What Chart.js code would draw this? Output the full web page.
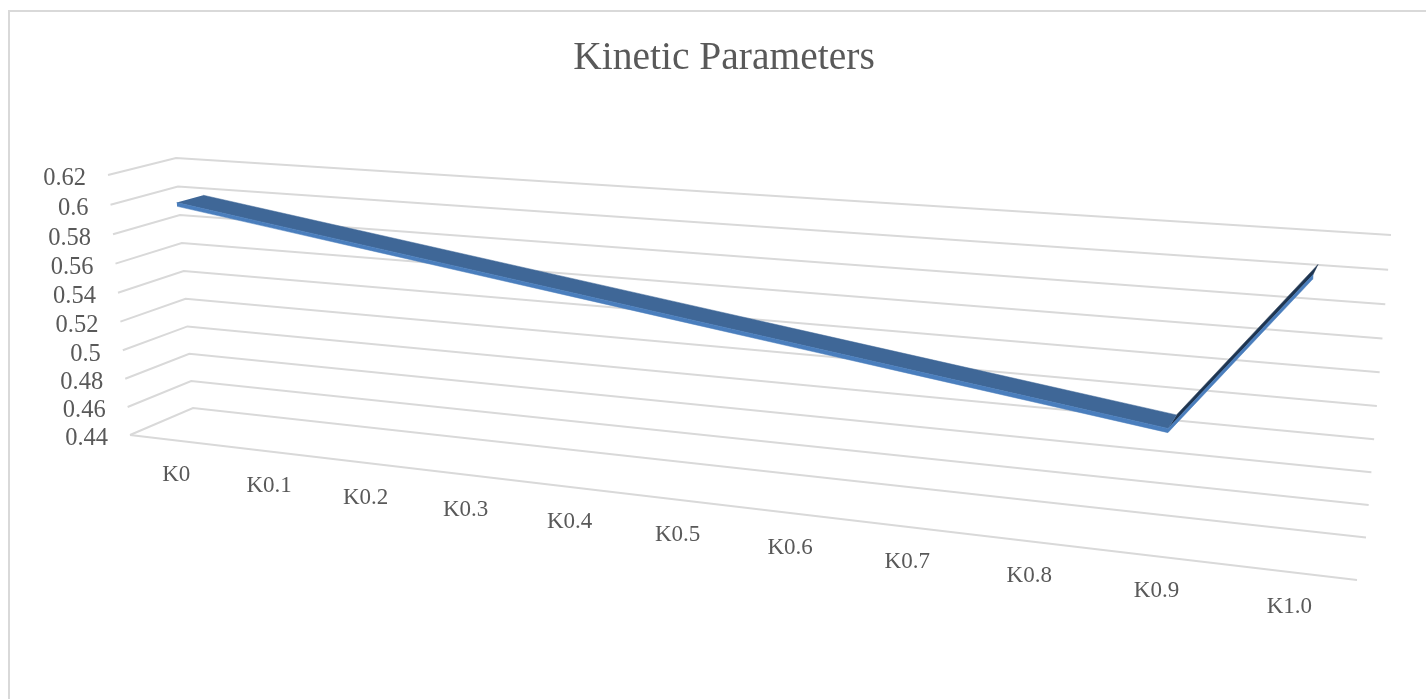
<!DOCTYPE html>
<html>
<head>
<meta charset="utf-8">
<title>Kinetic Parameters</title>
<script src="https://cdn.jsdelivr.net/npm/chart.js@4"></script>
<style>
  html, body { margin: 0; padding: 0; background: #fff; overflow: hidden; }
  #marco { position: absolute; left: 8px; top: 10px; width: 1430px; height: 720px; border: 2px solid #d9d9d9; box-sizing: border-box; }
  #caja { position: absolute; left: 22px; top: 0; width: 1404px; height: 699px; }
</style>
</head>
<body>
<div id="marco"></div>
<div id="caja"><canvas id="grafico" width="1404" height="699"></canvas></div>
<script>
const categories = ['K0', 'K0.1', 'K0.2', 'K0.3', 'K0.4', 'K0.5', 'K0.6', 'K0.7', 'K0.8', 'K0.9', 'K1.0'];
const values = [0.6, 0.59, 0.58, 0.57, 0.56, 0.55, 0.54, 0.53, 0.52, 0.51, 0.605];
const valueTicks = [0.44, 0.46, 0.48, 0.5, 0.52, 0.54, 0.56, 0.58, 0.6, 0.62];

// the 3D box as it lands on screen: bottom-left, bottom-right, top-right, top-left
const frontQuad = [[130, 435], [1357, 580], [1383, 260], [108, 175]];
const backQuad = [[193, 408], [1366, 537.5], [1391, 235], [176, 158]];
const ribbonFront = 0.3, ribbonBack = 0.7, ribbonThickness = 0.0025;

const crearPlano = (q) => {
    const [[x0, y0], [x1, y1], [x2, y2], [x3, y3]] = q;
    const dx1 = x1 - x2, dx2 = x3 - x2, sx = x0 - x1 + x2 - x3;
    const dy1 = y1 - y2, dy2 = y3 - y2, sy = y0 - y1 + y2 - y3;
    const den = dx1 * dy2 - dx2 * dy1;
    const g = (sx * dy2 - dx2 * sy) / den, h = (dx1 * sy - sx * dy1) / den;
    const a = x1 - x0 + g * x1, b = x3 - x0 + h * x3;
    const d = y1 - y0 + g * y1, e = y3 - y0 + h * y3;
    return (u, t) => {
        const w = g * u + h * t + 1;
        return { x: (a * u + b * t + x0) / w, y: (d * u + e * t + y0) / w };
    };
};
const planoFrente = crearPlano(frontQuad);
const planoFondo = crearPlano(backQuad);

const vMin = valueTicks[0], vMax = valueTicks[valueTicks.length - 1];

// i = category position, v = value, depth 0 front .. 1 back
const proyectar = (i, v, depth) => {
    const u = (i + 0.5) / categories.length, t = (v - vMin) / (vMax - vMin);
    const f = planoFrente(u, t), b = planoFondo(u, t);
    return { x: f.x + (b.x - f.x) * depth, y: f.y + (b.y - f.y) * depth };
};
const esquina = (plano, u, v) => plano(u, (v - vMin) / (vMax - vMin));

const lineaGrid = (v) => ({
    data: [esquina(planoFrente, 0, v), esquina(planoFondo, 0, v), esquina(planoFondo, 1, v)],
    borderColor: '#d9d9d9', borderWidth: 2, fill: false
});
const lineaPiso = {
    data: [esquina(planoFrente, 0, vMin), esquina(planoFrente, 1, vMin)],
    borderColor: '#d9d9d9', borderWidth: 2, fill: false
};

const cara = (desde, hasta, color) => {
    const frente = [], fondo = [];
    for (let i = desde; i <= hasta; i++) {
        frente.push(proyectar(i, values[i], ribbonFront));
        fondo.unshift(proyectar(i, values[i], ribbonBack));
    }
    return { data: frente.concat(fondo), backgroundColor: color, borderColor: color, borderWidth: 0.5, fill: 'shape' };
};
const bandaFrontal = () => {
    const arriba = [], abajo = [];
    values.forEach((v, i) => {
        arriba.push(proyectar(i, v, ribbonFront));
        abajo.unshift(proyectar(i, v - ribbonThickness, ribbonFront));
    });
    return { data: arriba.concat(abajo), backgroundColor: '#4a7ebd', borderColor: '#4a7ebd', borderWidth: 0.5, fill: 'shape' };
};

const etiquetas = {
    id: 'etiquetas',
    afterDraw(chart) {
        const { ctx, scales: { x, y } } = chart;
        ctx.save();
        ctx.fillStyle = '#595959';
        ctx.textBaseline = 'middle';
        ctx.font = '24.5px "Liberation Serif"';
        ctx.textAlign = 'right';
        valueTicks.forEach((v) => {
            const p = esquina(planoFrente, 0, v);
            ctx.fillText(String(v), x.getPixelForValue(p.x - 22), y.getPixelForValue(p.y + 4));
        });
        ctx.font = '23px "Liberation Serif"';
        ctx.textAlign = 'center';
        categories.forEach((c, i) => {
            const p = proyectar(i, vMin, 0);
            ctx.fillText(c, x.getPixelForValue(p.x + 1), y.getPixelForValue(p.y + 35));
        });
        ctx.restore();
    }
};

// Chart.js paints the first dataset last, so the ribbon goes first
new Chart(document.getElementById('grafico').getContext('2d'), {
    type: 'scatter',
    data: {
        datasets: [bandaFrontal(), cara(0, 9, '#3f6797'), cara(9, 10, '#1e3551'), lineaPiso].concat(valueTicks.map(lineaGrid))
    },
    options: {
        responsive: false,
        animation: false,
        showLine: true,
        layout: { padding: 0 },
        elements: { point: { radius: 0 }, line: { tension: 0 } },
        plugins: {
            legend: { display: false },
            tooltip: { enabled: false },
            title: {
                display: true,
                text: 'Kinetic Parameters',
                color: '#595959',
                font: { family: '"Liberation Serif"', size: 39.5, weight: 'normal', lineHeight: 1 },
                padding: { top: 39, bottom: 0 }
            }
        },
        scales: {
            x: { type: 'linear', display: false, min: 22, max: 1426 },
            y: { type: 'linear', display: false, min: 78.5, max: 699, reverse: true }
        }
    },
    plugins: [etiquetas]
});
</script>
</body>
</html>
